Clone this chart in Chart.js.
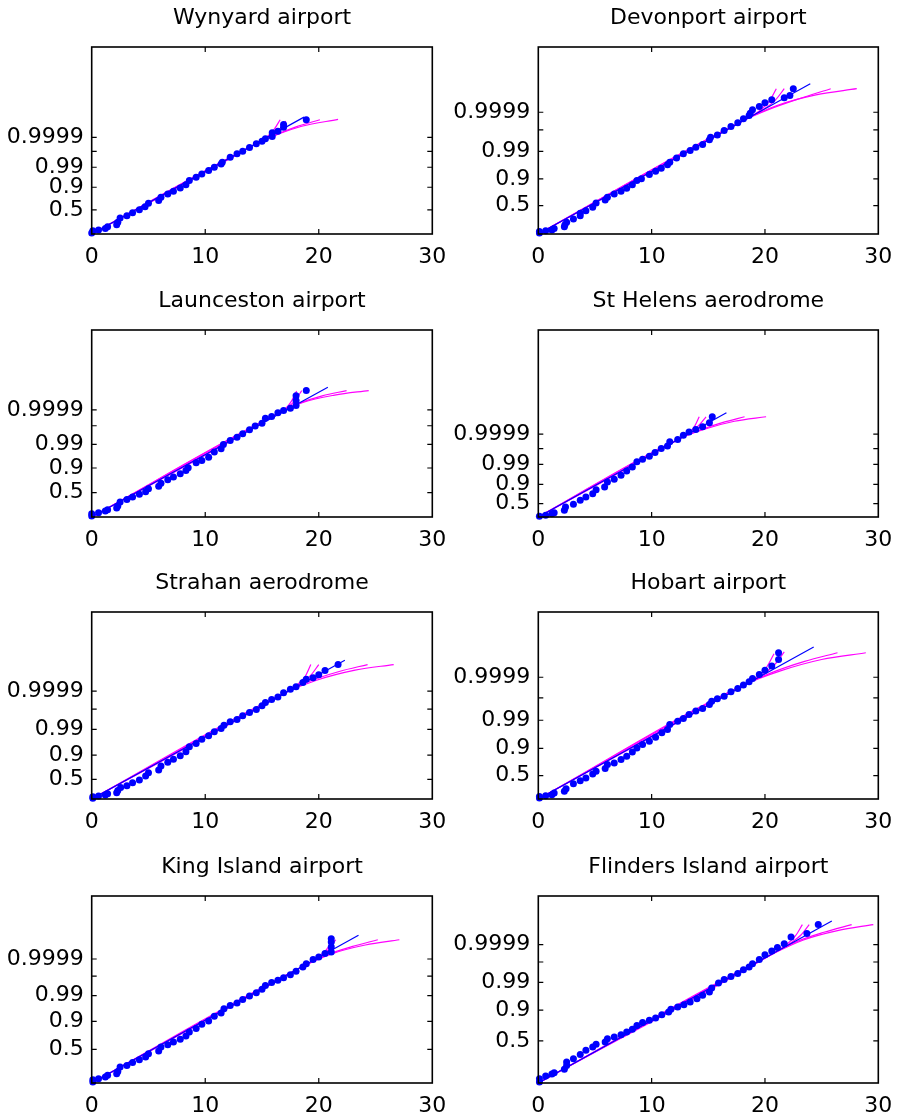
<!DOCTYPE html>
<html><head><meta charset="utf-8">
<script src="https://cdn.jsdelivr.net/npm/chart.js@4.4.1/dist/chart.umd.min.js"></script>
<style>
html,body{margin:0;padding:0;background:#fff;width:900px;height:1119px;overflow:hidden;position:relative}
canvas{position:absolute}
</style></head><body>
<script>
// ---------------- DATA ----------------
// x: wind speed; y: probability-paper reduced variate, expressed as % of the axis span
const xTickValues = [0, 10, 20, 30];
const probLabels = ['0.5', '0.9', '0.99', '', '0.9999'];
const stationNames = ['Wynyard airport', 'Devonport airport', 'Launceston airport', 'St Helens aerodrome',
  'Strahan aerodrome', 'Hobart airport', 'King Island airport', 'Flinders Island airport'];

// probability tick positions (0.5, 0.9, 0.99, 0.999, 0.9999) per station
const wynyardTicks = [12.9, 25.0, 35.7, 44.2, 51.7];
const devonportTicks = [15.2, 29.5, 44.2, 55.7, 65.1];
const launcestonTicks = [13.0, 26.2, 38.8, 48.8, 57.3];
const stHelensTicks = [7.2, 17.5, 28.1, 36.6, 44.3];
const strahanTicks = [10.5, 23.5, 37.2, 48.1, 57.7];
const hobartTicks = [12.5, 27.1, 42.1, 54.1, 65.1];
const kingIslandTicks = [18.0, 33.0, 46.7, 57.2, 66.3];
const flindersTicks = [22.5, 39.0, 53.8, 64.7, 74.0];

// observed points
const wynyardDots = [[0,0.5],[0.1,1.8],[0.6,2.1],[1.2,3.0],[1.4,3.9],[2.2,5.0],[2.3,6.3],[2.5,8.6],[3.1,9.8],[3.6,11.3],[4.2,13.0],[4.7,14.6],[5.0,16.4],[5.9,17.9],[6.1,19.6],[6.7,21.4],[7.2,22.9],[7.8,24.6],[8.3,26.4],[8.6,28.6],[9.2,30.4],[9.7,32.1],[10.3,33.9],[10.8,35.7],[11.4,37.5],[11.5,38.4],[12.2,41.1],[12.8,42.9],[13.3,44.3],[13.9,46.3],[14.5,48.2],[15.0,49.6],[15.3,50.9],[15.9,52.1],[15.9,54.1],[16.4,55.0],[16.9,57.1],[16.9,58.6],[18.9,61.1]];
const devonportDots = [[0.1,0.5],[0.1,1.3],[0.65,1.8],[1.2,2.1],[1.4,3.0],[2.3,3.9],[2.35,5.0],[2.5,6.3],[3.1,8.0],[3.7,9.8],[3.7,11.1],[4.2,12.5],[4.8,14.3],[5.1,16.6],[5.9,18.2],[6.1,19.6],[6.7,21.4],[7.3,22.9],[7.8,24.5],[8.3,26.4],[8.7,28.6],[9.1,29.5],[9.8,31.8],[10.35,33.6],[10.85,35.2],[11.4,37.0],[11.6,38.4],[12.2,40.7],[12.8,42.9],[13.4,44.6],[13.9,46.4],[14.5,47.9],[15.1,50.4],[15.2,51.8],[15.8,53.0],[16.4,55.4],[17.0,57.5],[17.6,59.5],[18.1,61.6],[18.6,63.4],[18.7,64.6],[18.9,66.4],[19.5,68.2],[20.0,70.2],[20.6,71.8],[21.7,72.9],[22.2,74.1],[22.5,77.7]];
const launcestonDots = [[0,0.5],[0,1.8],[0.6,2.3],[1.2,3.2],[1.4,3.9],[2.2,4.8],[2.3,5.9],[2.5,8.0],[3.1,9.3],[3.6,10.7],[4.2,12.1],[4.75,13.5],[5.0,15.1],[5.9,16.4],[6.1,18.1],[6.7,19.9],[7.2,21.4],[7.8,23.1],[8.3,24.9],[8.5,26.3],[9.2,29.0],[9.7,30.2],[10.3,32.0],[10.8,34.7],[11.4,36.5],[11.6,38.8],[12.2,40.9],[12.8,42.7],[13.3,44.5],[13.9,46.6],[14.4,48.6],[15.0,50.2],[15.3,52.8],[15.85,53.7],[16.4,55.7],[16.9,56.9],[17.5,58.2],[18.0,59.6],[18.0,62.3],[18.0,64.9],[18.9,67.6]];
const stHelensDots = [[0.1,0.4],[0.65,0.9],[1.2,1.8],[1.4,2.3],[2.3,3.6],[2.4,5.4],[3.1,6.8],[3.7,8.9],[4.2,10.7],[4.8,12.5],[5.1,14.6],[5.85,16.1],[6.1,18.75],[6.7,20.2],[7.3,22.3],[7.8,24.6],[8.3,26.8],[8.7,29.5],[9.2,30.9],[9.8,32.5],[10.3,34.5],[10.85,36.6],[11.4,38.0],[11.6,40.2],[12.3,41.4],[12.8,43.75],[13.3,45.5],[13.9,46.8],[14.5,48.2],[15.1,50.4],[15.35,53.6]];
const strahanDots = [[0.1,0.4],[0.1,1.2],[0.6,1.6],[1.2,2.1],[1.4,2.8],[2.2,3.4],[2.3,4.6],[2.55,6.2],[3.1,7.1],[3.6,8.7],[4.2,10.1],[4.75,12.3],[5.0,14.1],[5.9,15.5],[6.1,17.6],[6.7,19.6],[7.2,21.2],[7.8,23.1],[8.3,25.3],[8.6,27.9],[9.2,29.7],[9.7,32.0],[10.3,33.8],[10.8,35.9],[11.4,37.7],[11.65,39.5],[12.2,41.3],[12.8,42.5],[13.3,44.5],[13.9,46.3],[14.5,47.9],[15.0,49.8],[15.3,51.6],[15.85,53.2],[16.4,54.6],[16.9,56.8],[17.5,58.7],[18.0,60.0],[18.6,62.3],[18.9,64.1],[19.5,64.9],[20.0,66.5],[20.55,68.7],[21.7,71.9]];
const hobartDots = [[0.1,0.5],[0.1,1.4],[0.65,1.8],[1.2,2.3],[1.4,3.2],[2.3,4.1],[2.45,5.5],[3.1,8.2],[3.7,9.8],[4.2,11.25],[4.8,13.4],[5.1,14.8],[5.9,16.25],[6.1,18.4],[6.7,19.3],[7.3,21.1],[7.8,22.9],[8.3,25.2],[8.7,27.3],[9.2,29.1],[9.8,30.9],[10.35,33.0],[10.9,35.4],[11.4,37.1],[11.6,39.8],[12.3,41.6],[12.8,43.0],[13.3,45.2],[13.9,47.0],[14.5,48.4],[15.1,50.5],[15.3,52.3],[15.8,53.6],[16.4,55.0],[17.0,57.3],[17.6,59.1],[18.1,60.9],[18.6,62.7],[18.9,64.5],[19.5,66.6],[20.0,68.9],[20.6,71.1],[21.2,74.6],[21.2,78.2]];
const kingIslandDots = [[0.1,0.5],[0.1,1.8],[0.6,2.3],[1.2,3.2],[1.4,4.1],[2.2,5.0],[2.3,6.2],[2.5,8.6],[3.1,9.4],[3.6,10.9],[4.2,12.5],[4.75,13.9],[5.0,15.7],[5.9,17.1],[6.1,19.25],[6.7,20.5],[7.2,21.9],[7.8,23.4],[8.3,25.1],[8.6,27.3],[9.2,29.1],[9.7,31.4],[10.3,33.2],[10.8,35.7],[11.4,37.4],[11.65,39.75],[12.2,41.5],[12.8,42.8],[13.3,44.7],[13.9,46.5],[14.5,48.3],[15.0,50.1],[15.3,52.2],[15.85,53.7],[16.4,54.9],[16.9,56.3],[17.5,57.9],[18.0,59.7],[18.6,62.0],[18.9,63.8],[19.5,66.0],[20.0,67.4],[20.55,69.2],[21.1,70.1],[21.1,72.7],[21.1,75.4],[21.1,77.2]];
const flindersDots = [[0.1,0.5],[0.1,2.3],[0.65,3.7],[1.2,4.8],[1.4,5.5],[2.3,7.3],[2.5,9.4],[2.5,11.2],[3.1,13.0],[3.7,15.2],[4.2,17.5],[4.8,19.25],[5.1,20.7],[5.9,21.9],[6.1,23.7],[6.7,24.6],[7.3,25.8],[7.8,27.3],[8.3,28.7],[8.7,30.8],[9.2,32.3],[9.8,33.5],[10.35,34.8],[10.9,36.5],[11.5,38.0],[11.7,39.4],[12.3,40.6],[12.85,41.9],[13.4,43.3],[14.0,45.1],[14.5,46.9],[15.1,48.7],[15.3,50.8],[15.9,53.5],[16.4,55.3],[17.0,57.0],[17.6,58.5],[18.1,60.6],[18.6,62.0],[18.9,63.8],[19.5,66.0],[20.0,68.6],[20.6,70.6],[21.1,72.4],[21.7,74.5],[22.3,78.1],[23.7,79.9],[24.7,84.7]];

// fitted straight line (blue)
const wynyardFit = [[0,0],[18.7,62.5]];
const devonportFit = [[0,0],[24.0,80.4]];
const launcestonFit = [[0,0],[20.8,69.4]];
const stHelensFit = [[0,0],[16.6,55.7]];
const strahanFit = [[0,0],[22.3,74.2]];
const hobartFit = [[0,0],[24.3,81.25]];
const kingIslandFit = [[0,0],[23.5,79.0]];
const flindersFit = [[0,0],[25.9,86.6]];

// alternative fitted curves (magenta)
const wynyardCurves = [
  [[0,0],[14.2,47.3],[15.4,51.8],[16.1,56.2],[16.6,61.1]],
  [[0,0],[14.2,47.3],[15.7,52.7],[16.6,56.3],[17.1,60.4]],
  [[0,0],[14.2,47.3],[16.0,52.5],[18.0,57.3],[20.1,61.1]],
  [[0,0],[14.2,47.3],[16.2,52.8],[18.5,57.6],[21.7,61.3]]];
const devonportCurves = [
  [[0,0],[18.1,60.7],[19.5,65.8],[20.4,71.2],[21.0,77.7]],
  [[0,0],[18.1,60.7],[19.8,66.4],[20.9,71.5],[21.7,77.7]],
  [[0,0],[18.1,60.7],[20.3,66.5],[23.0,72.3],[25.8,77.7]],
  [[0,0],[18.1,60.7],[21.0,68.6],[24.5,74.4],[28.1,77.7]]];
const launcestonCurves = [
  [[0,0],[16.3,55.0],[17.1,58.2],[17.6,62.0],[18.05,67.3]],
  [[0,0],[16.3,55.0],[17.3,58.6],[18.0,63.0],[18.5,67.6]],
  [[0,0],[16.3,55.0],[18.2,60.6],[20.3,64.8],[22.45,67.6]],
  [[0,0],[16.3,55.0],[18.6,61.3],[21.4,65.2],[24.4,67.6]]];
const stHelensCurves = [
  [[0,0],[12.5,42.0],[13.3,45.0],[13.8,48.6],[14.2,53.6]],
  [[0,0],[12.5,42.0],[13.5,45.5],[14.2,49.2],[14.8,53.6]],
  [[0,0],[12.5,42.0],[14.4,46.8],[16.3,50.6],[18.2,53.6]],
  [[0,0],[12.5,42.0],[14.8,47.2],[17.3,51.2],[20.1,53.6]]];
const strahanCurves = [
  [[0,0],[16.9,56.4],[18.0,60.6],[18.8,65.5],[19.3,71.9]],
  [[0,0],[16.9,56.4],[18.3,61.2],[19.3,66.2],[20.0,71.9]],
  [[0,0],[16.9,56.4],[19.2,63.0],[21.8,68.2],[24.3,71.9]],
  [[0,0],[16.9,56.4],[19.8,63.5],[23.2,68.9],[26.6,71.9]]];
const hobartCurves = [
  [[0,0],[18.1,60.9],[19.4,65.7],[20.2,71.0],[20.8,77.7]],
  [[0,0],[18.1,60.9],[19.8,66.6],[20.9,72.2],[21.7,78.7]],
  [[0,0],[18.1,60.9],[20.6,67.6],[23.5,73.6],[26.4,78.2]],
  [[0,0],[18.1,60.9],[21.3,68.4],[25.0,74.6],[28.9,78.2]]];
const kingIslandCurves = [
  [[0,0],[18.5,62.0],[19.7,66.3],[20.6,70.8],[21.3,76.6]],
  [[0,0],[18.5,62.0],[19.9,66.8],[20.8,71.0],[21.5,76.6]],
  [[0,0],[18.5,62.0],[20.6,68.3],[22.9,72.9],[25.2,76.6]],
  [[0,0],[18.5,62.0],[21.2,69.2],[24.1,73.8],[27.1,76.6]]];
const flindersCurves = [
  [[0,0],[20.5,68.5],[21.8,73.5],[22.7,78.8],[23.3,84.7]],
  [[0,0],[20.5,68.5],[22.1,74.2],[23.2,79.3],[23.9,84.7]],
  [[0,0],[20.5,68.5],[22.8,75.6],[25.2,80.6],[27.65,84.7]],
  [[0,0],[20.5,68.5],[23.4,76.5],[26.4,81.5],[29.56,84.7]]];

// ---------------- BUILD ----------------
const stationDots = [wynyardDots, devonportDots, launcestonDots, stHelensDots, strahanDots, hobartDots, kingIslandDots, flindersDots];
const stationFits = [wynyardFit, devonportFit, launcestonFit, stHelensFit, strahanFit, hobartFit, kingIslandFit, flindersFit];
const stationCurves = [wynyardCurves, devonportCurves, launcestonCurves, stHelensCurves, strahanCurves, hobartCurves, kingIslandCurves, flindersCurves];
const stationTicks = [wynyardTicks, devonportTicks, launcestonTicks, stHelensTicks, strahanTicks, hobartTicks, kingIslandTicks, flindersTicks];

const FONT = {family: 'DejaVu Sans', size: 22, weight: 'normal'};
const colLeft = [0, 450];
const yAxisW = [91.7, 88.3];
const padRight = [17.7, 21.7];
const boxTops = [46.7, 329.5, 612, 895.7];
const TOP_BLOCK = 47, BOX_H = 187, XAXIS_H = 40;

const boxPlugin = {
  id: 'matlabBox',
  afterDraw(chart) {
    const {ctx, chartArea: a, scales} = chart;
    ctx.save();
    ctx.strokeStyle = '#000';
    ctx.lineWidth = 1.2;
    ctx.beginPath();
    scales.x.ticks.forEach(t => {
      const px = scales.x.getPixelForValue(t.value);
      if (px <= a.left + 1 || px >= a.right - 1) return;
      ctx.moveTo(px, a.bottom); ctx.lineTo(px, a.bottom - 5);
      ctx.moveTo(px, a.top); ctx.lineTo(px, a.top + 5);
    });
    scales.y.ticks.forEach(t => {
      const py = scales.y.getPixelForValue(t.value);
      ctx.moveTo(a.left, py); ctx.lineTo(a.left + 5, py);
      ctx.moveTo(a.right, py); ctx.lineTo(a.right - 5, py);
    });
    ctx.stroke();
    ctx.lineWidth = 1.6;
    ctx.strokeRect(a.left, a.top, a.right - a.left, a.bottom - a.top);
    ctx.restore();
  }
};

const toXY = arr => arr.map(([x, y]) => ({x, y}));

stationNames.forEach((name, i) => {
  const col = i % 2, row = Math.floor(i / 2);
  const cv = document.createElement('canvas');
  const W = 450, H = TOP_BLOCK + BOX_H + XAXIS_H;
  cv.width = W; cv.height = H;
  cv.style.left = colLeft[col] + 'px';
  cv.style.top = (boxTops[row] - TOP_BLOCK) + 'px';
  cv.style.width = W + 'px'; cv.style.height = H + 'px';
  document.body.appendChild(cv);

  const datasets = [
    {data: toXY(stationDots[i]), showLine: false, pointRadius: 3.5, pointHoverRadius: 3.5,
     pointBackgroundColor: '#0000ff', pointBorderColor: '#0000ff', pointBorderWidth: 0, clip: false},
    {data: toXY(stationFits[i]), showLine: true, pointRadius: 0, borderColor: '#0000ff', borderWidth: 1.2, fill: false}
  ];
  stationCurves[i].forEach(c => datasets.push({
    data: toXY(c), showLine: true, pointRadius: 0, borderColor: '#ff00ff', borderWidth: 1.2,
    fill: false, cubicInterpolationMode: 'monotone'
  }));
  const ticksArr = stationTicks[i];

  new Chart(cv, {
    type: 'scatter',
    data: {datasets},
    options: {
      responsive: false, animation: false, devicePixelRatio: 1,
      layout: {padding: {left: 0, right: padRight[col], top: 0, bottom: 0}},
      plugins: {
        legend: {display: false}, tooltip: {enabled: false},
        title: {display: true, text: name, font: FONT, color: '#000', fullSize: false,
                padding: {top: 5, bottom: TOP_BLOCK - 5 - 26.4}}
      },
      scales: {
        x: {
          type: 'linear', min: 0, max: 30,
          afterBuildTicks: s => { s.ticks = xTickValues.map(v => ({value: v})); },
          afterFit: s => { s.height = XAXIS_H; s.paddingLeft = 0; s.paddingRight = 0; },
          ticks: {font: FONT, color: '#000', padding: 10, maxRotation: 0, autoSkip: false},
          grid: {display: false, drawTicks: false},
          border: {display: false}
        },
        y: {
          type: 'linear', min: 0, max: 100,
          afterBuildTicks: s => { s.ticks = ticksArr.map(v => ({value: v})); },
          afterFit: s => { s.width = yAxisW[col]; s.paddingTop = 0; s.paddingBottom = 0; },
          ticks: {font: FONT, color: '#000', padding: 8, autoSkip: false,
                  callback: (v, idx) => probLabels[idx]},
          grid: {display: false, drawTicks: false},
          border: {display: false}
        }
      }
    },
    plugins: [boxPlugin]
  });
});
</script>
</body></html>
